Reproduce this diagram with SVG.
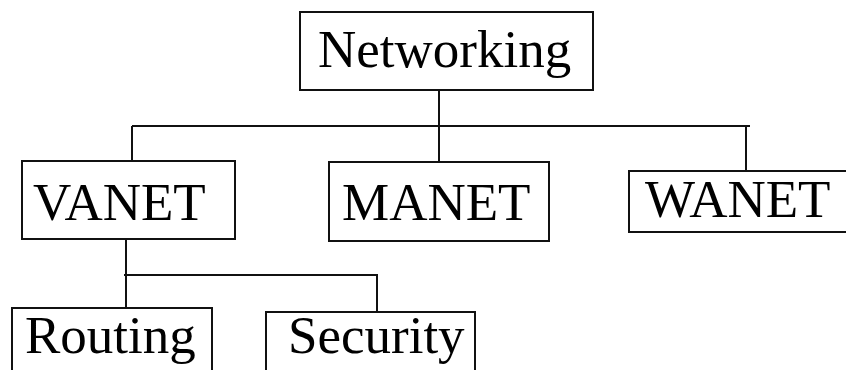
<svg xmlns="http://www.w3.org/2000/svg" width="846" height="370" viewBox="0 0 846 370">
<style>
.box{fill:#fff;stroke:#111;stroke-width:2}
.lbl{font-family:"Liberation Serif","Times New Roman",serif;font-size:53px;fill:#000}
.con{fill:none;stroke:#111;stroke-width:2}
</style>
<rect width="846" height="370" fill="#fff"/>
<g id="connectors">
<path class="con" d="M439 90V167"/>
<path class="con" d="M132 126H750"/>
<path class="con" d="M132 126V164"/>
<path class="con" d="M746 125V178"/>
<path class="con" d="M126 239V308"/>
<path class="con" d="M124 275H378"/>
<path class="con" d="M377 275V312"/>
</g>
<g id="networking"><rect class="box" x="300" y="12" width="293" height="78"/><text class="lbl" x="318" y="67">Networking</text></g>
<g id="vanet"><rect class="box" x="22" y="161" width="213" height="78"/><text class="lbl" x="33" y="220">VANET</text></g>
<g id="manet"><rect class="box" x="329" y="162" width="220" height="79"/><text class="lbl" x="342" y="220">MANET</text></g>
<g id="wanet"><rect class="box" x="629" y="171" width="230" height="61"/><text class="lbl" x="645" y="217">WANET</text></g>
<g id="routing"><rect class="box" x="12" y="308" width="200" height="80"/><text class="lbl" x="25" y="353">Routing</text></g>
<g id="security"><rect class="box" x="266" y="312" width="209" height="80"/><text class="lbl" x="288" y="353">Security</text></g>
</svg>
